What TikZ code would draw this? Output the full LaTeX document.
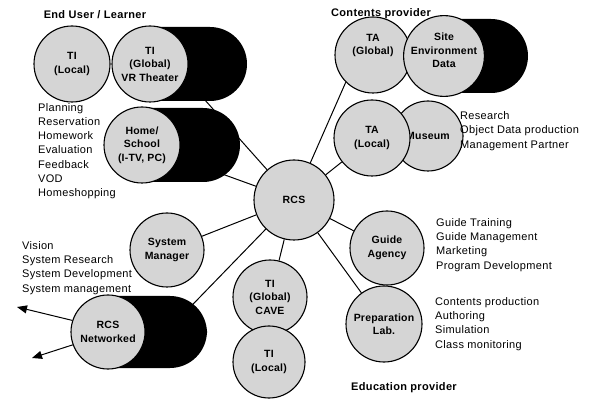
\documentclass[tikz,border=0pt]{standalone}
\usepackage{fontspec}
\setmainfont{Liberation Sans}
\newfontfamily\gesperrt[LetterSpace=3]{Liberation Sans}
\newfontfamily\kreisschrift[LetterSpace=2]{Liberation Sans}
\usetikzlibrary{arrows.meta,backgrounds}
\begin{document}
\begin{tikzpicture}[x=1pt,y=-1pt,
    kreis/.style={circle,draw,line width=1.1pt,fill=gray!33,minimum size=76pt,inner sep=0pt,align=center,
      font=\kreisschrift\fontsize{10.5}{13.5}\selectfont\bfseries},
    liste/.style={anchor=west,align=left,inner sep=0pt,font=\gesperrt\fontsize{11}{14.2}\selectfont},
    titel/.style={inner sep=0pt,font=\gesperrt\fontsize{11}{12}\selectfont\bfseries},
    schatten/.style={fill=black,rounded corners=37pt},
    linie/.style={line width=1pt}]
    \useasboundingbox (0,0) rectangle (590,401);
    % Ueberschriften
    \node[titel] (enduser) at (95,15) {End User / Learner};
    \node[titel] (contents) at (381,14) {Contents provider};
    \node[titel] (education) at (404,388) {Education provider};
    % Schatten
    \fill[schatten] (112,27) rectangle (247,101);
    \fill[schatten] (104,108) rectangle (240,182);
    \fill[schatten] (409,19) rectangle (528,93);
    \fill[schatten] (71,296) rectangle (207,368);
    % Kreise
    \node[kreis] (tilocal) at (72,64) {TI\\(Local)};
    \node[kreis] (vr) at (150,64) {TI\\(Global)\\VR Theater};
    \node[kreis] (home) at (142,145) {Home/\\School\\(I-TV, PC)};
    \node[kreis,minimum size=80pt] (rcs) at (294,200) {RCS};
    \node[kreis,minimum size=74pt] (sysman) at (167,250) {System\\Manager};
    \node[kreis,minimum size=74pt] (net) at (108,332) {RCS\\Networked};
    \node[kreis,minimum size=74pt] (cave) at (270,297) {TI\\(Global)\\CAVE};
    \node[kreis,minimum size=72pt] (tilocalb) at (269,362) {TI\\(Local)};
    \node[kreis] (taglobal) at (373,55) {TA\\(Global)\\[8pt]};
    \node[kreis] (site) at (444,56) {Site\\Environment\\Data\\[-2pt]};
    \node[kreis,minimum size=70pt] (museum) at (428,136) {Museum};
    \node[kreis] (talocal) at (372,138) {TA\\(Local)};
    \node[kreis,minimum size=74pt] (guide) at (387,248) {Guide\\Agency};
    \node[kreis] (prep) at (384,324) {Preparation\\Lab.};
    % Punkte in den Schatten
    \coordinate (vrend) at (180,72);
    \coordinate (netend) at (168,330);
    % Listen
    \node[liste] (userliste) at (38,151) {Planning\\Reservation\\Homework\\Evaluation\\Feedback\\VOD\\Homeshopping};
    \node[liste] (sysliste) at (22,268) {Vision\\System Research\\System Development\\System management};
    \node[liste] (museumliste) at (460,131) {Research\\Object Data production\\Management Partner};
    \node[liste] (guideliste) at (436,245) {Guide Training\\Guide Management\\Marketing\\Program Development};
    \node[liste] (prepliste) at (435,324) {Contents production\\Authoring\\Simulation\\Class monitoring};
    % Verbindungen
    \begin{scope}[on background layer]
        \draw[linie] (rcs) -- (vrend);
        \draw[linie] (rcs) -- (home);
        \draw[linie] (rcs) -- (taglobal.225);
        \draw[linie] (rcs) -- (talocal);
        \draw[linie] (rcs) -- (guide);
        \draw[linie] (rcs) -- (prep);
        \draw[linie] (rcs) -- (cave);
        \draw[linie] (rcs) -- (sysman);
        \draw[linie] (rcs) -- (netend);
    \end{scope}
    % Pfeile
    \coordinate (pfeila) at (17,307);
    \coordinate (pfeilb) at (32,358);
    \draw[linie,-{Triangle[length=10pt,width=8pt]}] (net.162) -- (pfeila);
    \draw[linie,-{Triangle[length=10pt,width=8pt]}] (net.200) -- (pfeilb);
\end{tikzpicture}
\end{document}
